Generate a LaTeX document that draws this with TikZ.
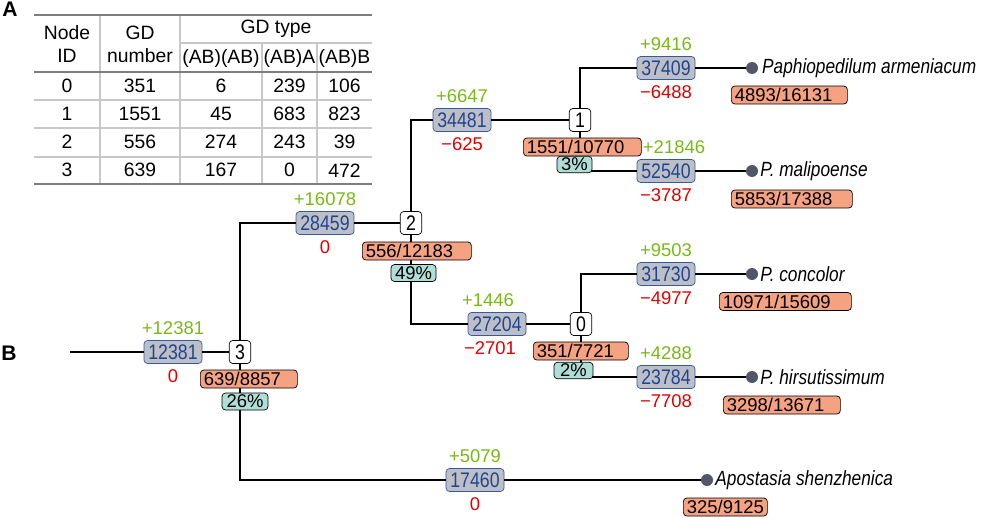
\documentclass[tikz,border=0pt]{standalone}
\usepackage{fontspec}
\setmainfont{Liberation Sans}
\newfontfamily\tallfont[FakeStretch=0.84]{Liberation Sans}
\usetikzlibrary{positioning}

\definecolor{boxgray}{RGB}{190,190,197}
\definecolor{bluetxt}{RGB}{30,70,150}
\definecolor{bluebd}{RGB}{50,90,170}
\definecolor{gaingreen}{RGB}{120,185,20}
\definecolor{lossred}{RGB}{225,0,0}
\definecolor{ratiofill}{RGB}{245,162,130}
\definecolor{pctfill}{RGB}{175,222,215}
\definecolor{dotgray}{RGB}{85,85,105}
\definecolor{rulegray}{RGB}{125,125,125}
\definecolor{gridgray}{RGB}{200,200,200}

\tikzstyle{branch} = [draw=bluebd, fill=boxgray, rounded corners=2pt, text=bluetxt,
    minimum width=1.16cm, minimum height=0.46cm, inner sep=1pt,
    font=\tallfont\fontsize{12}{13}\selectfont]
\tikzstyle{gdnode} = [draw, fill=white, rounded corners=2pt, minimum width=0.43cm,
    minimum height=0.46cm, inner sep=1pt, font=\tallfont\fontsize{12}{13}\selectfont]
\tikzstyle{ratio} = [draw, fill=ratiofill, rounded corners=2pt, minimum height=0.36cm,
    inner sep=0pt, inner xsep=2pt, anchor=west, align=left,
    font=\fontsize{10.5}{11}\selectfont]
\tikzstyle{pct} = [draw, fill=pctfill, rounded corners=2pt, minimum height=0.34cm,
    inner sep=1pt, font=\fontsize{10.5}{11}\selectfont]
\tikzstyle{leaf} = [circle, fill=dotgray, minimum size=0.24cm, inner sep=0pt]
\tikzstyle{taxon} = [font=\tallfont\itshape\fontsize{11.7}{12}\selectfont, anchor=west, inner sep=1pt]
\tikzstyle{gain} = [text=gaingreen, inner sep=0pt]
\tikzstyle{loss} = [text=lossred, inner sep=0pt]
\tikzstyle{tree} = [line width=1.4pt]
\tikzstyle{rule} = [draw=rulegray, line width=1.3pt]
\tikzstyle{grid} = [draw=gridgray, line width=0.6pt]
\tikzstyle{cell} = [inner sep=0pt, align=center, font=\fontsize{11}{13}\selectfont]

\begin{document}
\begin{tikzpicture}[x=0.02cm, y=-0.02cm, node distance=0.48cm,
    font=\fontsize{10.5}{12}\selectfont]
    \useasboundingbox (0,0) rectangle (1000,517);

    % Panel A: the table of GD counts
    \node [font=\bfseries\fontsize{12}{14}\selectfont] (panelA) at (10,9) {A};
    \draw [grid] (100,15) -- (100,184) (180,15) -- (180,184)
        (262,43) -- (262,184) (317,43) -- (317,184)
        (180,43) -- (372,43) (34,100) -- (372,100)
        (34,128) -- (372,128) (34,157) -- (372,157);
    \draw [rule] (34,15) -- (372,15) (34,72) -- (372,72) (34,184) -- (372,184);
    \node [cell] (hid) at (67,44) {Node\\ID};
    \node [cell] (hnum) at (140,44) {GD\\number};
    \node [cell] (htype) at (276,29) {GD type};
    \node [cell] (hab) at (221,58) {(AB)(AB)};
    \node [cell] (ha) at (289.5,58) {(AB)A};
    \node [cell] (hb) at (344.5,58) {(AB)B};
    \foreach \id/\num/\ab/\a/\b [count=\i] in
        {0/351/6/239/106, 1/1551/45/683/823, 2/556/274/243/39, 3/639/167/0/472} {
        \pgfmathsetmacro\rowy{57.5+28.2*\i}
        \node [cell] (id\i) at (67,\rowy) {\id};
        \node [cell] (num\i) at (140,\rowy) {\num};
        \node [cell] (ab\i) at (221,\rowy) {\ab};
        \node [cell] (a\i) at (289.5,\rowy) {\a};
        \node [cell] (b\i) at (344.5,\rowy) {\b};
    }

    % Panel B: we first place the branch boxes and the GD nodes
    \node [font=\bfseries\fontsize{12}{14}\selectfont] (panelB) at (9,353) {B};
    \coordinate (root) at (70,352);
    \node [branch] (stem) at (173,352) {12381};
    \node [gdnode] (n3) at (240,352) {3};
    \node [branch] (paph) at (325,223) {28459};
    \node [gdnode] (n2) at (411,223) {2};
    \node [branch] (amal) at (462,120) {34481};
    \node [gdnode] (n1) at (580,120) {1};
    \node [branch] (arm) at (666,68) {37409};
    \node [branch] (mal) at (666,171) {52540};
    \node [branch] (cohi) at (497,324) {27204};
    \node [gdnode] (n0) at (581,324) {0};
    \node [branch] (con) at (666,274) {31730};
    \node [branch] (hir) at (666,377) {23784};
    \node [branch] (apo) at (475,480) {17460};

    % the tips
    \node [leaf] (armdot) at (752,68) {};
    \node [leaf] (maldot) at (752,171) {};
    \node [leaf] (condot) at (752,274) {};
    \node [leaf] (hirdot) at (752,377) {};
    \node [leaf] (apodot) at (707,480) {};
    \node [taxon, right=1pt of armdot] (armname) {Paphiopedilum armeniacum};
    \node [taxon, right=0pt of maldot] (malname) {P. malipoense};
    \node [taxon, right=0pt of condot] (conname) {P. concolor};
    \node [taxon, right=0pt of hirdot] (hirname) {P. hirsutissimum};
    \node [taxon, right=0pt of apodot] (aponame) {Apostasia shenzhenica};

    % gains above and losses below each branch box
    \node [gain, above of=stem] (stemgain) {+12381};
    \node [loss, below of=stem] (stemloss) {0};
    \node [gain, above of=paph] (paphgain) {+16078};
    \node [loss, below of=paph] (paphloss) {0};
    \node [gain, above of=amal] (amalgain) {+6647};
    \node [loss, below of=amal] (amalloss) {−625};
    \node [gain, above of=arm] (armgain) {+9416};
    \node [loss, below of=arm] (armloss) {−6488};
    \node [gain, above of=mal, xshift=0.16cm] (malgain) {+21846};
    \node [loss, below of=mal] (malloss) {−3787};
    \node [gain, above of=cohi, xshift=-0.18cm] (cohigain) {+1446};
    \node [loss, below of=cohi, xshift=-0.14cm] (cohiloss) {−2701};
    \node [gain, above of=con] (congain) {+9503};
    \node [loss, below of=con] (conloss) {−4977};
    \node [gain, above of=hir] (hirgain) {+4288};
    \node [loss, below of=hir] (hirloss) {−7708};
    \node [gain, above of=apo] (apogain) {+5079};
    \node [loss, below of=apo] (apoloss) {0};

    % Once the boxes are placed, connecting them is easy
    \draw [tree] (root) -- (stem);
    \draw [tree] (stem) -- (n3);
    \draw [tree] (n3) |- (paph);
    \draw [tree] (n3) |- (apo);
    \draw [tree] (paph) -- (n2);
    \draw [tree] (n2) |- (amal);
    \draw [tree] (n2) |- (cohi);
    \draw [tree] (amal) -- (n1);
    \draw [tree] (n1) |- (arm);
    \draw [tree] (n1) |- (mal);
    \draw [tree] (cohi) -- (n0);
    \draw [tree] (n0) |- (con);
    \draw [tree] (n0) |- (hir);
    \draw [tree] (arm) -- (armdot);
    \draw [tree] (mal) -- (maldot);
    \draw [tree] (con) -- (condot);
    \draw [tree] (hir) -- (hirdot);
    \draw [tree] (apo) -- (apodot);

    % GD counts and retention go on top of the lines
    \node [ratio, text width=1.80cm] (r3) at (200,379) {639/8857};
    \node [ratio, text width=2.04cm] (r2) at (362,251) {556/12183};
    \node [ratio, text width=2.22cm] (r1) at (523,147) {1551/10770};
    \node [ratio, text width=1.76cm] (r0) at (533,351) {351/7721};
    \node [ratio, text width=2.18cm] (rarm) at (731,95) {4893/16131};
    \node [ratio, text width=2.28cm] (rmal) at (731,199) {5853/17388};
    \node [ratio, text width=2.50cm] (rcon) at (719,301.5) {10971/15609};
    \node [ratio, text width=2.20cm] (rhir) at (723,405) {3298/13671};
    \node [ratio, text width=1.54cm] (rapo) at (683,507) {325/9125};
    \node [pct, minimum width=0.92cm] (p3) at (245,401.5) {26\%};
    \node [pct, minimum width=0.90cm] (p2) at (413.5,273) {49\%};
    \node [pct, minimum width=0.70cm, minimum height=0.3cm] (p1) at (574.5,164.5) {3\%};
    \node [pct, minimum width=0.78cm, minimum height=0.3cm] (p0) at (573.5,370.5) {2\%};
\end{tikzpicture}
\end{document}
